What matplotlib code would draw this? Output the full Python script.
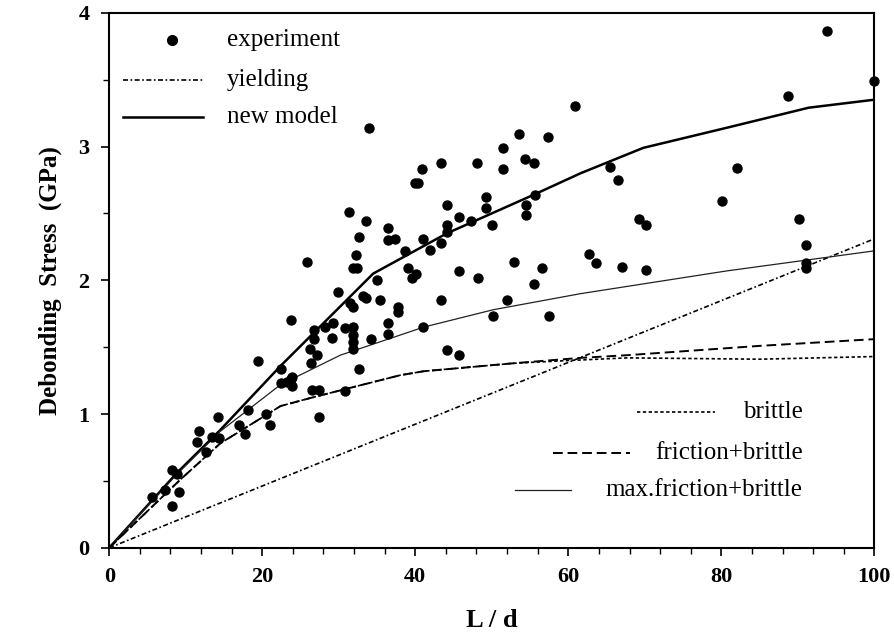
import matplotlib
matplotlib.use('Agg')
import matplotlib.pyplot as plt
from matplotlib.ticker import MultipleLocator
from matplotlib.lines import Line2D

# experiment points (L/d, stress in GPa)
exp_x = [5.6, 7.3, 8.2, 8.85, 9.1, 8.2,
         11.8, 11.5, 12.7, 13.4, 14.3, 14.2,
         16.9, 17.8, 18.2, 19.4, 20.5, 21.0,
         22.4, 22.4, 23.7, 23.9, 23.2, 23.9, 23.7,
         25.9, 26.3, 26.4, 27.2, 26.7, 26.7, 28.2, 29.2, 29.1,
         26.5, 27.4, 27.4, 30.8, 30.8,
         29.9, 31.4, 31.9, 32.4, 32.3, 32.7, 33.6, 34.0,
         31.5, 31.9, 33.2, 33.6,
         31.9, 31.9, 31.9, 31.9, 32.7, 34.2,
         35.0, 35.4, 36.4, 36.5, 37.4, 36.5, 36.5, 37.8, 37.8,
         38.7, 39.0, 39.6, 40.1, 40.0, 40.4, 40.9, 41.0, 41.9, 41.0,
         43.3, 43.3, 43.3, 44.1, 44.1, 44.1, 44.1, 45.7, 45.7, 45.7,
         47.3, 48.1, 48.2, 49.2, 49.2, 50.0, 50.1,
         51.5, 51.5, 52.0, 52.9, 53.5, 54.4, 55.5, 55.6, 54.5, 54.5, 55.5, 56.5, 57.3, 57.5,
         60.9, 62.7, 63.6, 65.4, 66.5, 67.0, 69.3, 70.1, 70.2,
         80.1, 82.0, 88.7, 90.2, 91.1, 91.1, 91.1, 93.8, 100.0]
exp_y = [0.38, 0.43, 0.58, 0.55, 0.42, 0.31,
         0.87, 0.79, 0.72, 0.83, 0.82, 0.98,
         0.92, 0.85, 1.03, 1.40, 1.00, 0.92,
         1.34, 1.23, 1.26, 1.21, 1.24, 1.28, 1.70,
         2.14, 1.49, 1.38, 1.44, 1.63, 1.56, 1.65, 1.68, 1.57,
         1.18, 1.18, 0.98, 1.17, 1.64,
         1.91, 2.51, 2.09, 2.09, 2.19, 2.32, 2.44, 3.14,
         1.83, 1.80, 1.88, 1.87,
         1.65, 1.59, 1.54, 1.49, 1.34, 1.56,
         2.00, 1.85, 2.39, 2.30, 2.31, 1.68, 1.60, 1.80, 1.76,
         2.22, 2.09, 2.02, 2.05, 2.73, 2.73, 2.83, 2.31, 2.23, 1.65,
         2.88, 2.28, 1.85, 2.56, 2.41, 2.36, 1.48, 2.47, 2.07, 1.44,
         2.44, 2.88, 2.02, 2.62, 2.54, 2.41, 1.73,
         2.99, 2.83, 1.85, 2.14, 3.09, 2.91, 2.88, 2.64, 2.56, 2.49, 1.97, 2.09, 3.07, 1.73,
         3.30, 2.20, 2.13, 2.85, 2.75, 2.10, 2.46, 2.41, 2.08,
         2.59, 2.84, 3.38, 2.46, 2.26, 2.13, 2.09, 3.86, 3.49]

# model curves
yield_x = [0, 100]
yield_y = [0, 2.31]

new_x = [0, 8.85, 14.5, 22.4, 34.5, 44.1, 55.5, 61.6, 69.8, 80.7, 91.4, 100]
new_y = [0, 0.56, 0.88, 1.36, 2.05, 2.35, 2.64, 2.80, 2.99, 3.14, 3.29, 3.35]

maxfr_x = [0, 8.85, 14.5, 22.4, 30.2, 38.0, 41.1, 50.2, 61.6, 80.7, 100]
maxfr_y = [0, 0.55, 0.87, 1.22, 1.44, 1.59, 1.65, 1.78, 1.90, 2.07, 2.22]

fric_x = [0, 9.3, 14.5, 22.4, 26.3, 31.1, 38.0, 41.1, 52.9, 61.6, 67.7, 85.1, 100]
fric_y = [0, 0.51, 0.78, 1.06, 1.12, 1.19, 1.29, 1.32, 1.38, 1.42, 1.44, 1.51, 1.56]

brit_x = [0, 9.3, 14.5, 22.4, 26.3, 31.1, 38.0, 41.1, 52.9, 60.0, 67.7, 85.1, 100]
brit_y = [0, 0.51, 0.78, 1.06, 1.12, 1.19, 1.29, 1.32, 1.38, 1.40, 1.42, 1.41, 1.43]

serif = 'Liberation Serif'

fig = plt.figure(figsize=(8.95, 6.37), dpi=100)
ax = fig.add_axes([0.122, 0.14, 0.855, 0.84])

ax.scatter(exp_x, exp_y, s=42, color='black', zorder=3, clip_on=False)
ax.plot(yield_x, yield_y, color='black', lw=1.2, ls=(0, (3, 1.5, 1, 1.5)))
ax.plot(new_x, new_y, color='black', lw=1.8)
ax.plot(maxfr_x, maxfr_y, color='#222222', lw=0.9)
ax.plot(fric_x, fric_y, color='black', lw=1.4, ls=(0, (5, 2.5)))
ax.plot(brit_x, brit_y, color='black', lw=1.2, ls=(0, (2, 1.5)))

ax.set_xlim(0, 100)
ax.set_ylim(0, 4)
ax.xaxis.set_major_locator(MultipleLocator(20))
ax.xaxis.set_minor_locator(MultipleLocator(4))
ax.yaxis.set_major_locator(MultipleLocator(1))
ax.yaxis.set_minor_locator(MultipleLocator(0.5))
ax.tick_params(which='major', direction='out', length=6, width=1.2, pad=8)
ax.tick_params(which='minor', direction='out', length=4, width=1.0)
for sp in ax.spines.values():
    sp.set_linewidth(1.5)

for lab in ax.get_xticklabels() + ax.get_yticklabels():
    lab.set_fontfamily(serif)
    lab.set_fontweight('bold')
    lab.set_fontsize(16)

ax.set_xlabel('L / d', fontfamily=serif, fontweight='bold', fontsize=19, labelpad=16)
ax.set_ylabel('Debonding  Stress  (GPa)', fontfamily=serif, fontweight='bold',
              fontsize=18, labelpad=12)

# legend, top left
tr = ax.transAxes
ax.add_line(Line2D([0.082], [0.949], marker='o', ms=7, color='black', transform=tr))
ax.add_line(Line2D([0.018, 0.122], [0.875, 0.875], color='black', lw=1.2,
                   ls=(0, (3, 1.5, 1, 1.5)), transform=tr))
ax.add_line(Line2D([0.018, 0.122], [0.806, 0.806], color='black', lw=1.8, transform=tr))
for y, txt in [(0.949, 'experiment'), (0.875, 'yielding'), (0.806, 'new model')]:
    ax.text(0.154, y, txt, transform=tr, fontfamily=serif, fontsize=18, va='center')

# legend, bottom right
ax.add_line(Line2D([0.690, 0.792], [0.254, 0.254], color='black', lw=1.2,
                   ls=(0, (2, 1.5)), transform=tr))
ax.add_line(Line2D([0.580, 0.681], [0.178, 0.178], color='black', lw=1.4,
                   ls=(0, (5, 2.5)), transform=tr))
ax.add_line(Line2D([0.530, 0.603], [0.108, 0.108], color='#222222', lw=0.9, transform=tr))
for y, txt in [(0.254, 'brittle'), (0.178, 'friction+brittle'), (0.108, 'max.friction+brittle')]:
    ax.text(0.906, y, txt, transform=tr, fontfamily=serif, fontsize=18, va='center', ha='right')

fig.savefig('out.png', dpi=100)
